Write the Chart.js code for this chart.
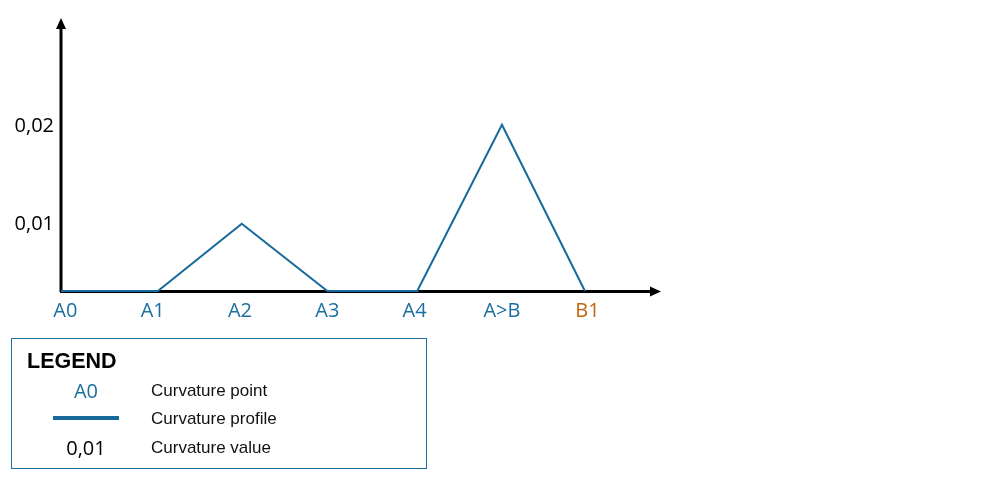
<!DOCTYPE html>
<html><head><meta charset="utf-8">
<script src="https://cdn.jsdelivr.net/npm/chart.js@4/dist/chart.umd.min.js"></script>
<style>
html,body{margin:0;padding:0;background:#fff;width:1000px;height:479px;overflow:hidden;}
#wrap{position:relative;width:1000px;height:479px;}
canvas{position:absolute;left:0;top:0;}
#legend{position:absolute;left:11px;top:338px;width:416px;height:131px;border:1.5px solid #1f6f9f;box-sizing:border-box;font-family:"Liberation Sans",Arial,sans-serif;}
#legend .title{position:absolute;left:15px;top:10px;font-weight:bold;font-size:21.5px;color:#000;}
#legend .sym{position:absolute;width:110px;text-align:center;left:19px;}
#legend .lab{position:absolute;left:139px;font-size:17px;color:#111;}
</style></head>
<body><div id="wrap"><canvas id="c" width="1000" height="479"></canvas>
<div id="legend">
<div class="title">LEGEND</div>
<div class="sym" style="top:38px;font-family:'Open Sans',sans-serif;font-size:20px;color:#1a6fa0;">A0</div>
<div class="lab" style="top:42px;">Curvature point</div>
<div class="sym" style="top:77px;left:41px;width:66px;height:4px;background:#17699b;"></div>
<div class="lab" style="top:70px;">Curvature profile</div>
<div class="sym" style="top:95px;font-family:'Open Sans',sans-serif;font-size:20px;color:#000;">0,01</div>
<div class="lab" style="top:99px;">Curvature value</div>
</div>
</div>
<script>
const categories = ['A0','A1','A2','A3','A4','A>B','B1'];
const pointPos = [0, 1.11, 2.07, 3.05, 4.08, 5.05, 6.0];
const curvature = [0.0033, 0.0033, 0.0101, 0.0033, 0.0033, 0.0201, 0.0033];
const labelPos = [0.05, 1.05, 2.05, 3.05, 4.05, 5.05, 6.03];
const yTicks = [0.01, 0.02];
const yTickLabels = ['0,01', '0,02'];

const axisArrows = {
  id:'axisArrows',
  beforeDatasetsDraw(chart){
    const {ctx, chartArea:a} = chart;
    ctx.save();
    ctx.strokeStyle='#000'; ctx.fillStyle='#000'; ctx.lineWidth=3;
    ctx.beginPath(); ctx.moveTo(a.left, a.bottom+1); ctx.lineTo(a.left, a.top+6); ctx.stroke();
    ctx.beginPath(); ctx.moveTo(a.left-5, a.top+10); ctx.lineTo(a.left, a.top-1); ctx.lineTo(a.left+5, a.top+10); ctx.closePath(); ctx.fill();
    ctx.beginPath(); ctx.moveTo(a.left-1, a.bottom+0.5); ctx.lineTo(a.right-6, a.bottom+0.5); ctx.stroke();
    ctx.beginPath(); ctx.moveTo(a.right-10, a.bottom-4.5); ctx.lineTo(a.right+1, a.bottom+0.5); ctx.lineTo(a.right-10, a.bottom+5.5); ctx.closePath(); ctx.fill();
    ctx.restore();
  }
};

new Chart(document.getElementById('c'), {
  type:'line',
  data:{datasets:[{
    data: curvature.map((v,i)=>({x:pointPos[i], y:v})),
    borderColor:'#17699b', borderWidth:2, pointRadius:0, tension:0, clip:false, fill:false
  }]},
  options:{
    responsive:false, animation:false,
    layout:{padding:{left:0, right:340, top:18, bottom:0}},
    plugins:{legend:{display:false}, tooltip:{enabled:false}},
    scales:{
      x:{type:'linear', min:0, max:6.86,
        grid:{display:false, drawTicks:false}, border:{display:false},
        afterBuildTicks(s){ s.ticks = labelPos.map(p=>({value:p})); },
        afterFit(s){ s.height = 479-291; },
        ticks:{padding:8, autoSkip:false, maxRotation:0,
          font:{family:"'Open Sans', sans-serif", size:20},
          color:(c)=> categories[labelPos.indexOf(c.tick.value)]==='B1' ? '#c0650f' : '#1a6fa0',
          callback:(v)=> categories[labelPos.indexOf(v)]}
      },
      y:{type:'linear', min:0.0033, max:0.0308,
        grid:{display:false, drawTicks:false}, border:{display:false},
        afterBuildTicks(s){ s.ticks = yTicks.map(v=>({value:v})); },
        afterFit(s){ s.width = 61; },
        ticks:{padding:7, font:{family:"'Open Sans', sans-serif", size:20}, color:'#000',
          callback:(v)=> yTickLabels[yTicks.indexOf(v)]}
      }
    }
  },
  plugins:[axisArrows]
});
</script></body></html>
